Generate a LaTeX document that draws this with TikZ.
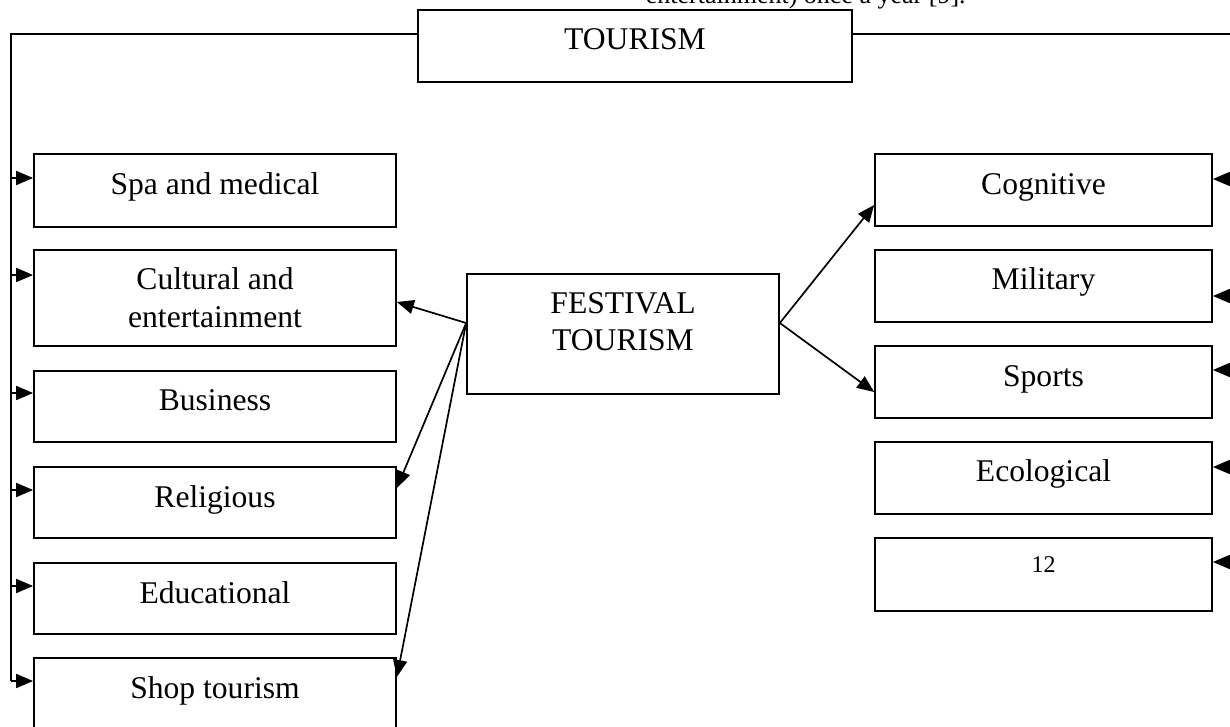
\documentclass[tikz,border=0pt]{standalone}
\usepackage{fontspec}
\setmainfont{Liberation Serif}
\usetikzlibrary{arrows.meta,calc,fit}
\begin{document}
\begin{tikzpicture}[x=0.5pt,y=-0.5pt,line width=0.85pt,
  box/.style={draw, rectangle, inner sep=0pt, line width=0.85pt},
  lbl/.style={anchor=base, inner sep=0pt, font=\fontsize{15.8}{19}\selectfont},
  small/.style={anchor=base, inner sep=0pt, font=\fontsize{12}{14}\selectfont},
  arr/.style={-{Triangle[length=8.5pt,width=7pt]}}]
\useasboundingbox (0,0) rectangle (1230,727);
\clip (0,0) rectangle (1230,727);

% cut-off text at the top
\node[anchor=base west, inner sep=0pt, font=\fontsize{13}{15}\selectfont] (cut) at (645,3.5) {entertainment) once a year [9].};

% main boxes
\node[box, fit={(418,10) (852,82)}] (tour) {};
\node[lbl] (tourt) at ($(tour.north)+(0,40)$) {TOURISM};

\node[box, fit={(467,274) (779,394)}] (fest) {};
\node[lbl] (festa) at ($(fest.north)+(0,40)$) {FESTIVAL};
\node[lbl] (festb) at ($(fest.north)+(0,77)$) {TOURISM};

% left column
\node[box, fit={(34,154) (396,227)}] (spa) {};
\node[lbl] (spat) at ($(spa.north)+(0,41)$) {Spa and medical};
\node[box, fit={(34,250) (396,346)}] (cult) {};
\node[lbl] (culta) at ($(cult.north)+(0,40)$) {Cultural and};
\node[lbl] (cultb) at ($(cult.north)+(0,78)$) {entertainment};
\node[box, fit={(34,371) (396,442)}] (bus) {};
\node[lbl] (bust) at ($(bus.north)+(0,40)$) {Business};
\node[box, fit={(34,467) (396,538)}] (rel) {};
\node[lbl] (relt) at ($(rel.north)+(0,41)$) {Religious};
\node[box, fit={(34,563) (396,634)}] (edu) {};
\node[lbl] (edut) at ($(edu.north)+(0,41)$) {Educational};
\node[box, fit={(34,658) (396,731)}] (shop) {};
\node[lbl] (shopt) at ($(shop.north)+(0,41)$) {Shop tourism};

% right column
\node[box, fit={(875,154) (1212,226)}] (cog) {};
\node[lbl] (cogt) at ($(cog.north)+(0,41)$) {Cognitive};
\node[box, fit={(875,250) (1212,322)}] (mil) {};
\node[lbl] (milt) at ($(mil.north)+(0,40)$) {Military};
\node[box, fit={(875,346) (1212,418)}] (spo) {};
\node[lbl] (spot) at ($(spo.north)+(0,41)$) {Sports};
\node[box, fit={(875,442) (1212,514)}] (eco) {};
\node[lbl] (ecot) at ($(eco.north)+(0,40)$) {Ecological};
\node[box, fit={(875,538) (1212,611)}] (twelve) {};
\node[small] (twelvet) at ($(twelve.north)+(0,35)$) {12};

% frame lines from TOURISM
\coordinate (tl) at (11,34);
\coordinate (tr) at (1233,34);
\draw (tour.west |- tl) -- (tl) -- (11,681);
\draw (tour.east |- tr) -- (tr) -- (1233,562);

% left arrows
\draw[arr] (11,178) -- (spa.west |- 0,178);
\draw[arr] (11,275) -- (cult.west |- 0,275);
\draw[arr] (11,393) -- (bus.west |- 0,393);
\draw[arr] (11,490) -- (rel.west |- 0,490);
\draw[arr] (11,586) -- (edu.west |- 0,586);
\draw[arr] (11,681) -- (shop.west |- 0,681);

% right arrows
\draw[arr] (1233,179) -- (cog.east |- 0,179);
\draw[arr] (1233,296) -- (mil.east |- 0,296);
\draw[arr] (1233,370) -- (spo.east |- 0,370);
\draw[arr] (1233,467) -- (eco.east |- 0,467);
\draw[arr] (1233,562) -- (twelve.east |- 0,562);

% festival arrows
\coordinate (fl) at (fest.west |- 0,323);
\coordinate (fr) at (fest.east |- 0,323);
\draw[arr] (fl) -- (cult.east |- 0,302);
\draw[arr] (fl) -- (rel.east |- 0,488);
\draw[arr] (fl) -- (shop.east |- 0,677);
\draw[arr] (fr) -- (cog.west |- 0,205);
\draw[arr] (fr) -- (spo.west |- 0,392);
\end{tikzpicture}
\end{document}
